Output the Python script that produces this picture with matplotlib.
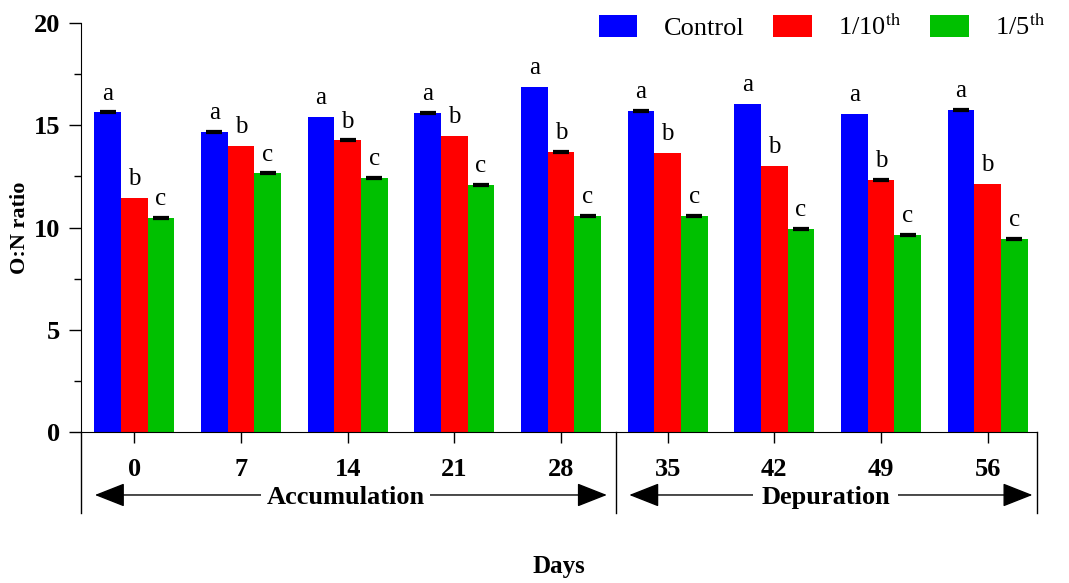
import numpy as np
import matplotlib
matplotlib.use('Agg')
import matplotlib.pyplot as plt
from matplotlib.ticker import MultipleLocator

matplotlib.rcParams['font.family'] = 'Liberation Serif'
matplotlib.rcParams['mathtext.fontset'] = 'stix'

days = ['0', '7', '14', '21', '28', '35', '42', '49', '56']
control = [15.63, 14.67, 15.40, 15.60, 16.87, 15.70, 16.05, 15.55, 15.75]
tenth = [11.44, 13.98, 14.26, 14.47, 13.69, 13.64, 13.01, 12.32, 12.13]
fifth = [10.46, 12.65, 12.42, 12.08, 10.56, 10.56, 9.93, 9.63, 9.44]
err_control = [0.05, 0.05, 0.0, 0.05, 0.0, 0.05, 0.0, 0.0, 0.05]
err_tenth = [0.0, 0.0, 0.05, 0.0, 0.05, 0.0, 0.0, 0.05, 0.0]
err_fifth = [0.05, 0.05, 0.05, 0.05, 0.05, 0.05, 0.05, 0.05, 0.05]
letters = ['a', 'b', 'c']
series_names = ['Control', r'1/10$^{\mathrm{th}}$', r'1/5$^{\mathrm{th}}$']
colors = ['#0000FF', '#FF0000', '#00C000']

fig = plt.figure(figsize=(10.69, 5.83), dpi=100)
ax = fig.add_axes([0.0758, 0.259, 0.894, 0.7015])

x = np.arange(len(days))
w = 0.25
handles = []
for i, (vals, errs) in enumerate(zip([control, tenth, fifth],
                                     [err_control, err_tenth, err_fifth])):
    xs = x + (i - 1) * w
    b = ax.bar(xs, vals, w, color=colors[i], label=series_names[i])
    handles.append(b)
    vals = np.array(vals); errs = np.array(errs)
    m = errs > 0
    ax.errorbar(xs[m], vals[m], yerr=errs[m], fmt='none', ecolor='black',
                capsize=6, capthick=1.6, elinewidth=1.2)
    for xx, v in zip(xs, vals):
        ax.text(xx, v + 0.38, letters[i], ha='center', va='bottom', fontsize=18)

ax.set_xlim(-0.5, 8.46)
ax.set_ylim(0, 20)
ax.spines['top'].set_visible(False)
ax.spines['right'].set_visible(False)
ax.yaxis.set_major_locator(MultipleLocator(5))
ax.yaxis.set_minor_locator(MultipleLocator(2.5))
ax.tick_params(axis='y', which='major', length=9, width=1, labelsize=19, pad=6)
ax.tick_params(axis='y', which='minor', length=5, width=1)
for lab in ax.get_yticklabels():
    lab.set_fontweight('bold')
ax.set_xticks(x)
ax.set_xticklabels(days, fontsize=19, fontweight='bold')
ax.tick_params(axis='x', length=8, width=1, pad=11)
fig.text(0.019, 0.609, 'O:N ratio', rotation=90, ha='center', va='center',
         fontsize=16, fontweight='bold')

# bottom section box and arrows
for xv in [-0.5, 4.52, 8.46]:
    ax.plot([xv, xv], [0, -3.96], color='black', lw=1, clip_on=False)
arrow_kw = dict(arrowstyle='<|-|>,head_length=1.9,head_width=0.75',
                color='black', lw=1, mutation_scale=10, shrinkA=0, shrinkB=0)
ax.annotate('', xy=(-0.37, -3.08), xytext=(4.43, -3.08), arrowprops=arrow_kw,
            annotation_clip=False)
ax.annotate('', xy=(4.64, -3.08), xytext=(8.42, -3.08), arrowprops=arrow_kw,
            annotation_clip=False)
ax.text(1.98, -3.2, 'Accumulation', ha='center', va='center', fontsize=19,
        fontweight='bold', bbox=dict(facecolor='white', edgecolor='none', pad=4),
        clip_on=False)
ax.text(6.48, -3.2, 'Depuration', ha='center', va='center', fontsize=19,
        fontweight='bold', bbox=dict(facecolor='white', edgecolor='none', pad=6),
        clip_on=False)

fig.text(0.523, 0.028, 'Days', ha='center', va='center', fontsize=18,
         fontweight='bold')

fig.legend(handles=handles, labels=series_names, ncol=3, frameon=False,
           loc='center right', bbox_to_anchor=(1.0, 0.955), fontsize=19,
           handlelength=1.45, handleheight=0.9, columnspacing=1.1,
           handletextpad=1.0)

plt.savefig('out.png', dpi=100)
